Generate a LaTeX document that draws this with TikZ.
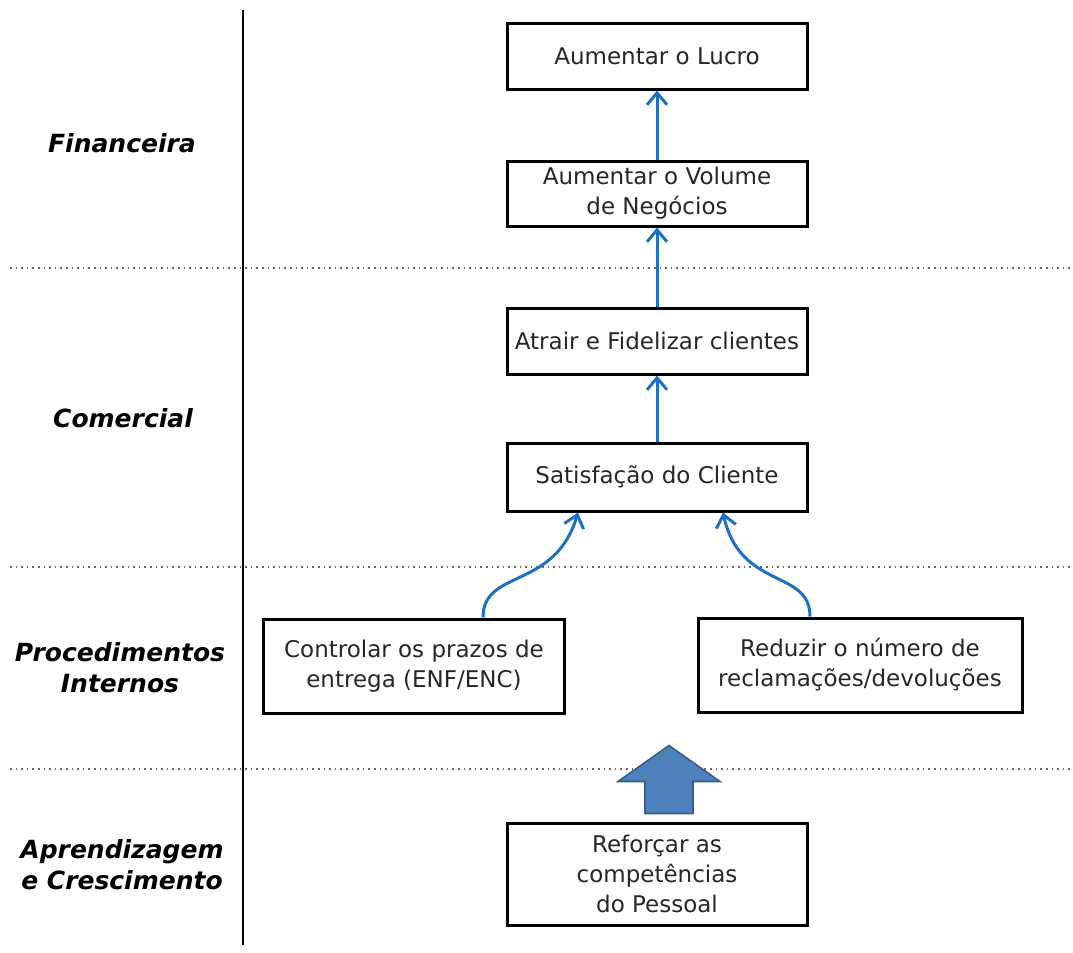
\documentclass[tikz,border=0pt]{standalone}
\usepackage{fontspec}
\setmainfont{DejaVu Sans}
\newfontfamily\perspfont{DejaVu Sans}
\usetikzlibrary{positioning, arrows.meta, calc}
\definecolor{linkblue}{RGB}{31,112,192}
\definecolor{blockfill}{RGB}{79,129,189}
\definecolor{blockedge}{RGB}{56,93,138}
\tikzset{
  objbox/.style={rectangle, draw=black, line width=1.5pt, minimum width=150pt, inner sep=3pt, align=center, text=black!85, font=\fontsize{11.5}{15}\selectfont},
  persp/.style={align=center, font=\perspfont\fontsize{12.5}{15.5}\selectfont\bfseries\itshape},
  sepline/.style={black!60, dotted, line width=0.8pt},
  arrow/.style={linkblue, line width=1.5pt, -{Straight Barb[length=6pt, width=10pt]}}
}
\begin{document}
\begin{tikzpicture}[x=0.5pt, y=-0.5pt]
        \useasboundingbox (0,0) rectangle (1073,953);
        % perspectivas
        \draw [line width=1pt] (243,10) -- (243,945);
        \draw [sepline] (10,268) -- (1073,268);
        \draw [sepline] (10,567) -- (1073,567);
        \draw [sepline] (10,769) -- (1073,769);

        \node (fin) [persp] at (122,143) {Financeira};
        \node (com) [persp] at (123,418) {Comercial};
        \node (proc) [persp] at (120,668) {Procedimentos\\Internos};
        \node (apr) [persp] at (122,865) {Aprendizagem\\e Crescimento};

        % objetivos
        \node (lucro) [objbox, minimum height=33pt] at (657,56) {Aumentar o Lucro};
        \node (volume) [objbox, minimum height=32.5pt, below=34.5pt of lucro] {Aumentar o Volume\\de Negócios};
        \node (atrair) [objbox, minimum height=33pt, below=39.5pt of volume] {Atrair e Fidelizar clientes};
        \node (satisf) [objbox, minimum height=34pt, below=33pt of atrair] {Satisfação do Cliente};
        \node (prazos) [objbox, minimum width=150.5pt, minimum height=47pt] at (414,666) {Controlar os prazos de\\entrega (ENF/ENC)};
        \node (reclam) [objbox, minimum width=162pt, minimum height=47pt] at (860,665) {Reduzir o número de\\reclamações/devoluções};
        \node (pessoal) [objbox, minimum height=51pt] at (657,874) {Reforçar as\\competências\\do Pessoal};

        \draw [arrow] (volume) -- (lucro);
        \draw [arrow] (atrair) -- (volume);
        \draw [arrow] (satisf) -- (atrair);
        \draw [arrow] ($(prazos.north)+(69,0)$) .. controls ($(prazos.north)+(69,-49)$) and ($(satisf.south)+(-102,78)$) .. ($(satisf.south)+(-79,0)$);
        \draw [arrow] ($(reclam.north)+(-50,0)$) .. controls ($(reclam.north)+(-50,-48)$) and ($(satisf.south)+(83,78)$) .. ($(satisf.south)+(66,0)$);

        % seta de bloco
        \filldraw [fill=blockfill, draw=blockedge, line width=0.8pt, line join=miter] ($(pessoal.north)+(-12,-8)$) -- ++(0,-32) -- ++(-27,0) -- ($(pessoal.north)+(12,-76)$) -- ($(pessoal.north)+(63,-40)$) -- ++(-27,0) -- ($(pessoal.north)+(36,-8)$) -- cycle;
    \end{tikzpicture}
\end{document}
